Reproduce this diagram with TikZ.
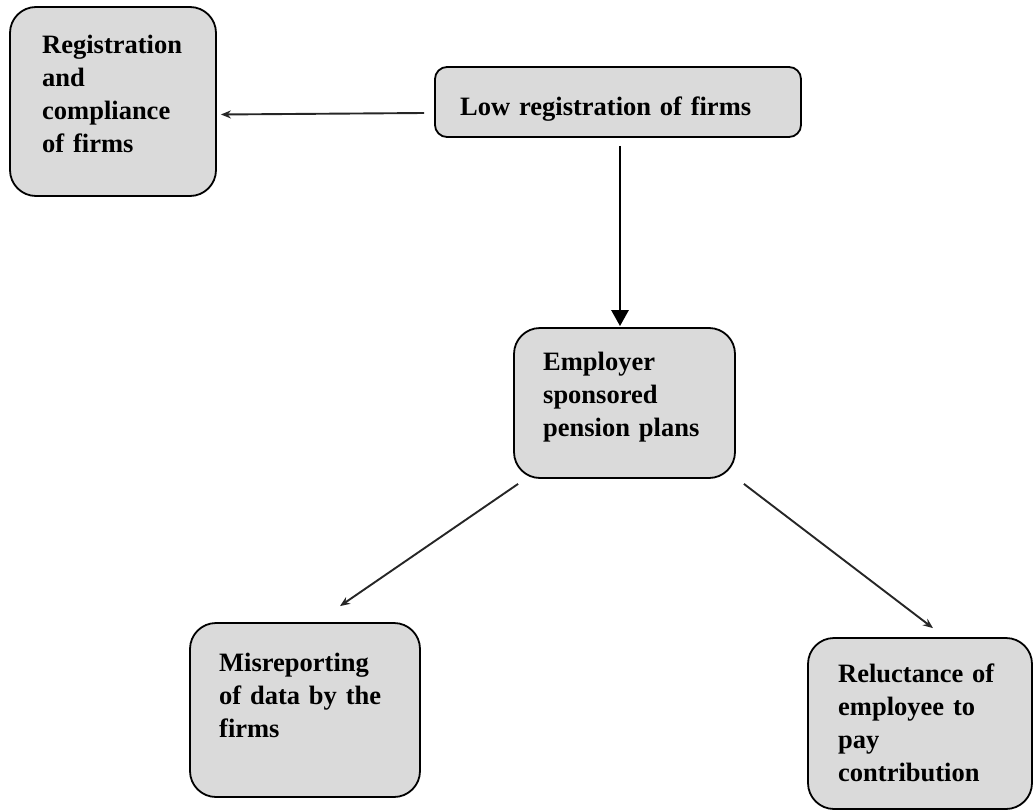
\documentclass[tikz,border=0pt]{standalone}
\usepackage{fontspec}
\setmainfont{Liberation Serif}
\usetikzlibrary{arrows.meta,calc}
\definecolor{boxgray}{RGB}{218,218,218}
\tikzset{
  box/.style={draw=black, line width=1.8pt, fill=boxgray, rounded corners=26pt, inner sep=0pt},
  txt/.style={inner sep=0pt, align=left, text width=210pt, anchor=base west,
    font=\fontsize{26.5}{33}\selectfont\bfseries},
  thinarrow/.style={draw=black!85, line width=1.9pt, -{Stealth[length=10pt,width=8pt]}},
  thickarrow/.style={draw=black, line width=2.8pt, -{Triangle[length=16pt,width=17pt]}}
}
\begin{document}
\begin{tikzpicture}[x=1pt,y=-1pt]
\useasboundingbox (0,0) rectangle (1034,811);
% boxes
\node[box, minimum width=206pt, minimum height=189pt] (reg) at (113,101.5) {};
\node[box, rounded corners=12pt, minimum width=366pt, minimum height=70pt] (low) at (618,102) {};
\node[box, minimum width=221pt, minimum height=150pt] (emp) at (624.5,403) {};
\node[box, minimum width=230pt, minimum height=174pt] (mis) at (305,710) {};
\node[box, minimum width=224pt, minimum height=171pt] (rel) at (920,723.5) {};
% texts
\node[txt] (regT) at (42,53) {Registration\\and\\compliance\\of firms};
\node[txt, text width=320pt] (lowT) at (460,115) {Low registration of firms};
\node[txt] (empT) at (543,370) {Employer\\sponsored\\pension plans};
\node[txt] (misT) at (219,671) {Misreporting\\of data by the\\firms};
\node[txt] (relT) at (838,682) {Reluctance of\\employee to\\pay\\contribution};
% connectors
\draw[thinarrow] ($(low.west)+(-10,11)$) -- ($(reg.east)+(4,13)$);
\draw[thickarrow] ($(low.south)+(2,8)$) -- ($(emp.north)+(-4.5,-1)$);
\draw[thinarrow] ($(emp.south west)+(5,5)$) -- ($(mis.north)+(35,-16)$);
\draw[thinarrow] ($(emp.south east)+(8,5)$) -- ($(rel.north)+(13,-9)$);
\end{tikzpicture}
\end{document}
